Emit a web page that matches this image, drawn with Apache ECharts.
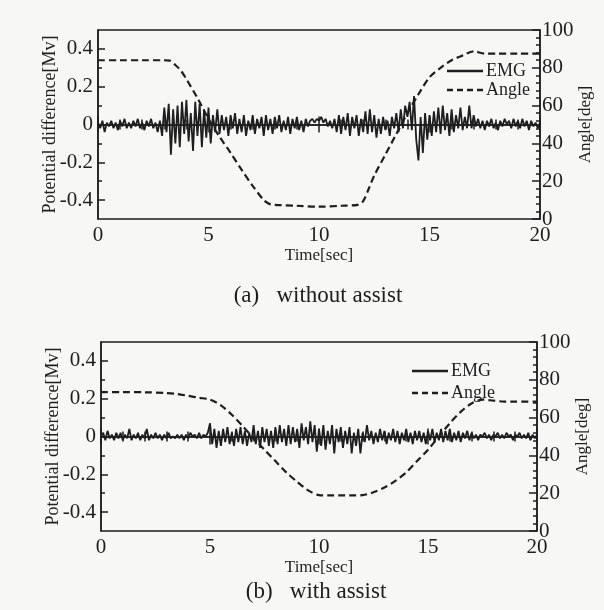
<!DOCTYPE html>
<html>
<head>
<meta charset="utf-8">
<script src="https://cdn.jsdelivr.net/npm/echarts/dist/echarts.min.js"></script>
<style>
html,body{margin:0;padding:0;background:#f7f7f5;}
#c{width:604px;height:610px;}
</style>
</head>
<body>
<div id="c"></div>
<script>
// ---- Data ----
const emgStep = 0.1; // sampling interval of EMG traces [sec]
const emgA = [
 0.01,-0.02,0.02,-0.04,0.01,-0.01,0.02,-0.02,0.01,-0.03,
 0.02,-0.01,0.03,-0.02,0.01,-0.02,0.02,-0.01,0.03,-0.02,
 0.01,-0.03,0.02,-0.01,0.03,-0.02,0.01,-0.04,0.02,-0.06,
 0.09,-0.04,0.11,-0.16,0.08,-0.10,0.10,-0.12,0.12,-0.05,
 0.13,-0.09,0.06,-0.14,0.12,-0.06,0.11,-0.12,0.08,-0.07,
 0.09,-0.10,0.05,-0.04,0.08,-0.05,0.05,-0.03,0.04,-0.06,
 0.05,-0.02,0.06,-0.05,0.03,-0.04,0.05,-0.06,0.02,-0.03,
 0.05,-0.05,0.03,-0.02,0.04,-0.06,0.05,-0.03,0.03,-0.05,
 0.04,-0.02,0.05,-0.04,0.02,-0.03,0.04,-0.05,0.03,-0.02,
 0.04,-0.03,0.02,-0.04,0.03,-0.01,0.02,0.03,0.01,0.03,
 0.02,0.04,0.01,0.03,-0.01,0.02,-0.02,0.03,-0.04,0.05,
 -0.05,0.04,-0.03,0.06,-0.06,0.04,-0.02,0.05,-0.06,0.03,
 -0.04,0.07,-0.05,0.08,-0.04,0.05,-0.07,0.03,-0.05,0.04,
 -0.03,0.02,-0.06,0.04,-0.02,0.06,-0.04,0.08,-0.02,0.10,
 0.04,0.12,-0.03,0.15,-0.08,-0.19,0.04,-0.15,0.06,-0.08,
 0.05,-0.06,0.07,-0.04,0.09,-0.05,0.10,-0.03,0.06,-0.06,
 0.08,-0.04,0.05,-0.02,0.09,-0.03,0.04,-0.02,0.10,-0.02,
 0.05,-0.01,0.03,-0.02,0.02,-0.03,0.02,-0.01,0.03,-0.02,
 0.01,-0.03,0.02,-0.01,0.03,0.00,0.02,-0.02,0.03,-0.01,
 0.02,-0.02,0.03,-0.01,0.02,-0.03,0.02,-0.01,0.01,-0.02,
 0.01
];
const emgB = [
 0.00,0.02,-0.02,0.03,-0.01,0.01,-0.02,0.02,-0.01,0.02,
 -0.02,0.01,-0.01,0.04,-0.02,0.01,-0.01,0.02,-0.02,0.01,
 -0.01,0.04,-0.02,0.01,-0.01,0.02,-0.01,0.01,-0.02,0.01,
 -0.01,0.02,-0.01,0.00,-0.01,0.01,-0.01,0.01,-0.02,0.01,
 -0.01,0.02,0.00,0.01,-0.01,0.02,-0.01,0.01,0.00,0.02,
 0.07,-0.04,0.04,-0.06,0.03,-0.05,0.04,-0.03,0.05,-0.04,
 0.02,-0.05,0.04,-0.03,0.05,-0.04,0.03,-0.05,0.02,-0.03,
 0.06,-0.04,0.03,-0.06,0.05,-0.03,0.04,-0.05,0.03,-0.06,
 0.05,-0.04,0.06,-0.03,0.04,-0.05,0.06,-0.04,0.05,-0.03,
 0.04,-0.06,0.07,-0.02,0.05,-0.04,0.08,-0.03,0.06,-0.08,
 0.04,-0.05,0.06,-0.07,0.03,-0.04,0.06,-0.09,0.04,-0.03,
 0.05,-0.06,0.03,-0.04,0.05,-0.09,0.02,-0.05,0.04,-0.09,
 0.02,-0.03,0.06,-0.02,0.03,-0.04,0.02,-0.03,0.04,-0.02,
 0.03,-0.04,0.02,-0.02,0.04,-0.03,0.03,-0.04,0.02,-0.02,
 0.04,-0.03,0.02,-0.04,0.03,-0.02,0.03,-0.03,0.02,-0.04,
 0.03,-0.02,0.04,-0.03,0.02,-0.02,0.04,-0.03,0.03,-0.02,
 0.04,-0.03,0.02,-0.02,0.03,-0.03,0.02,-0.01,0.03,-0.02,
 0.02,-0.01,0.01,-0.02,0.01,0.00,0.02,-0.01,0.01,-0.02,
 0.01,0.00,0.02,-0.01,0.01,-0.01,0.02,0.00,0.01,-0.02,
 0.01,0.00,0.02,-0.01,0.01,-0.01,0.02,-0.02,0.01,-0.01,
 0.01
];
const angleTimesA = [0,1,2,3,3.25,3.5,3.75,4,4.5,5,5.5,6,6.5,7,7.5,7.75,8,9,10,11,11.75,12,12.25,12.5,13,13.5,14,14.5,15,15.5,16,16.5,17,17.5,18,19,20];
const angleA      = [84,84,84,84,83.8,81.5,78.5,74,64,53,43.5,35,26,17.5,10,8,7.5,7,6.5,7,7.5,9.5,16,23,34,45,56,66,75,80,84,86.5,88.7,87.5,87.5,87.5,87.5];
const angleTimesB = [0,1,2,3,3.5,4,4.5,5,5.5,6,6.5,7,7.5,8,8.5,9,9.5,10,10.5,11,11.5,12,12.5,13,13.5,14,14.5,15,15.5,16,16.5,17,17.5,18,18.5,19,20];
const angleB      = [73.5,73.5,73.4,73,72.5,71.5,70.5,69.5,66.5,61.5,55.5,49,43,37,31,26,21.5,19,18.8,18.8,18.8,19,20.5,23,26.5,31,37,43,50,57,63,67.5,69.5,69,68.5,68.5,68.5];
const xTicks = [0,5,10,15,20];
const leftLabels = [-0.4,-0.2,0,0.2,0.4];
const leftMinor = [-0.3,-0.1,0.1,0.3];
const captions = ['(a)   without assist','(b)   with assist'];
const seriesNames = ['EMG','Angle'];

// ---- Build ----
const FONT = "'Liberation Serif','Times New Roman',serif";
const INK = '#1e1e1e';
const pairs = (arr) => arr.map((v,i)=>[+(i*emgStep).toFixed(2), v]);
const zip = (t,v) => t.map((x,i)=>[x,v[i]]);
const ICON_SOLID = 'path://M0,0H36V2.4H0Z';
const ICON_DASH = 'path://M0,0H6V2.4H0Z M10,0H16V2.4H10Z M20,0H26V2.4H20Z M30,0H36V2.4H30Z';

const panels = [
  {grid:{left:98,right:64,top:30,height:189}, emg:emgA, at:angleTimesA, av:angleA, legend:{left:447,top:62,itemGap:1}, cap:{x:318,y:296}},
  {grid:{left:101,right:67,top:342,height:189}, emg:emgB, at:angleTimesB, av:angleB, legend:{left:412,top:362,itemGap:4}, cap:{x:316,y:592}}
];

const grid=[], xAxis=[], yAxis=[], series=[], legend=[], graphic=[];
panels.forEach((p,gi)=>{
  grid.push(Object.assign({show:true,borderColor:INK,borderWidth:1.5,backgroundColor:'transparent',
    containLabel:false, outerBoundsMode:'none'},p.grid));
  const xb = xAxis.length;
  xAxis.push({
    type:'value', gridIndex:gi, position:'bottom', min:0, max:20, interval:5,
    name:'Time[sec]', nameLocation:'middle', nameGap:27,
    nameTextStyle:{fontFamily:FONT,fontSize:17,color:INK},
    axisLine:{show:true,lineStyle:{color:INK,width:1.5}},
    axisTick:{show:true,inside:true,length:8,lineStyle:{color:INK,width:1.5}},
    minorTick:{show:true,splitNumber:5,length:5,lineStyle:{color:INK,width:1.5}},
    axisLabel:{fontFamily:FONT,fontSize:21,color:INK,margin:6,customValues:xTicks},
    splitLine:{show:false}
  });
  xAxis.push({
    type:'value', gridIndex:gi, position:'top', min:0, max:20, interval:5,
    axisLine:{show:true,lineStyle:{color:INK,width:1.5}},
    axisTick:{show:true,inside:true,length:8,lineStyle:{color:INK,width:1.5}},
    minorTick:{show:true,splitNumber:5,length:5,lineStyle:{color:INK,width:1.5}},
    axisLabel:{show:false}, splitLine:{show:false}
  });
  const yl = yAxis.length;
  yAxis.push({
    type:'value', gridIndex:gi, position:'left', min:-0.5, max:0.5,
    name:'Potential difference[Mv]', nameLocation:'middle', nameGap:39, nameRotate:90, nameMoveOverlap:false,
    nameTextStyle:{fontFamily:FONT,fontSize:18,color:INK},
    axisLine:{show:true,lineStyle:{color:INK,width:1.5}},
    axisTick:{show:true,inside:true,length:7,customValues:leftLabels,lineStyle:{color:INK,width:1.5}},
    axisLabel:{fontFamily:FONT,fontSize:21,color:INK,margin:5,customValues:leftLabels,
      formatter:(v)=> (Math.abs(v)<1e-9 ? '0' : (+v).toFixed(1))},
    splitLine:{show:false}
  });
  yAxis.push({
    type:'value', gridIndex:gi, position:'left', min:-0.5, max:0.5,
    axisLine:{show:false},
    axisTick:{show:true,inside:true,length:4,customValues:leftMinor,lineStyle:{color:INK,width:1.5}},
    axisLabel:{show:false}, splitLine:{show:false}
  });
  const yr = yAxis.length;
  yAxis.push({
    type:'value', gridIndex:gi, position:'right', min:0, max:100, interval:20,
    name:'Angle[deg]', nameLocation:'middle', nameGap:37, nameRotate:90, nameMoveOverlap:false,
    nameTextStyle:{fontFamily:FONT,fontSize:17,color:INK},
    axisLine:{show:true,lineStyle:{color:INK,width:1.5}},
    axisTick:{show:true,inside:true,length:8,lineStyle:{color:INK,width:1.5}},
    minorTick:{show:true,splitNumber:5,length:4,lineStyle:{color:INK,width:1.5}},
    axisLabel:{fontFamily:FONT,fontSize:21,color:INK,margin:2},
    splitLine:{show:false}
  });
  series.push({
    name:seriesNames[0], type:'line', xAxisIndex:xb, yAxisIndex:yl, data:pairs(p.emg),
    symbol:'none', animation:false, lineStyle:{color:INK,width:1.8}, itemStyle:{color:INK}, z:3
  });
  series.push({
    name:seriesNames[1], type:'line', xAxisIndex:xb, yAxisIndex:yr, data:zip(p.at,p.av),
    symbol:'none', smooth:0.3, animation:false, lineStyle:{color:INK,width:2.2,type:[7,4]}, itemStyle:{color:INK}, z:4
  });
  legend.push({
    orient:'vertical', left:p.legend.left, top:p.legend.top, itemGap:p.legend.itemGap,
    padding:0, itemWidth:36, itemHeight:3, selectedMode:false,
    data:[{name:seriesNames[0],icon:ICON_SOLID},{name:seriesNames[1],icon:ICON_DASH}],
    itemStyle:{color:INK,borderWidth:0},
    textStyle:{fontFamily:FONT,fontSize:18,color:INK,lineHeight:17,padding:[0,0,0,-2]}
  });
  graphic.push({
    type:'text', x:p.cap.x, y:p.cap.y,
    style:{text:captions[gi], font:"23px 'Liberation Serif', serif", fill:INK, textAlign:'center', textVerticalAlign:'middle'}
  });
});

const chart = echarts.init(document.getElementById('c'), null, {renderer:'canvas'});
chart.setOption({backgroundColor:'#f7f7f5', animation:false, grid, xAxis, yAxis, series, legend, graphic});
</script>
</body>
</html>
